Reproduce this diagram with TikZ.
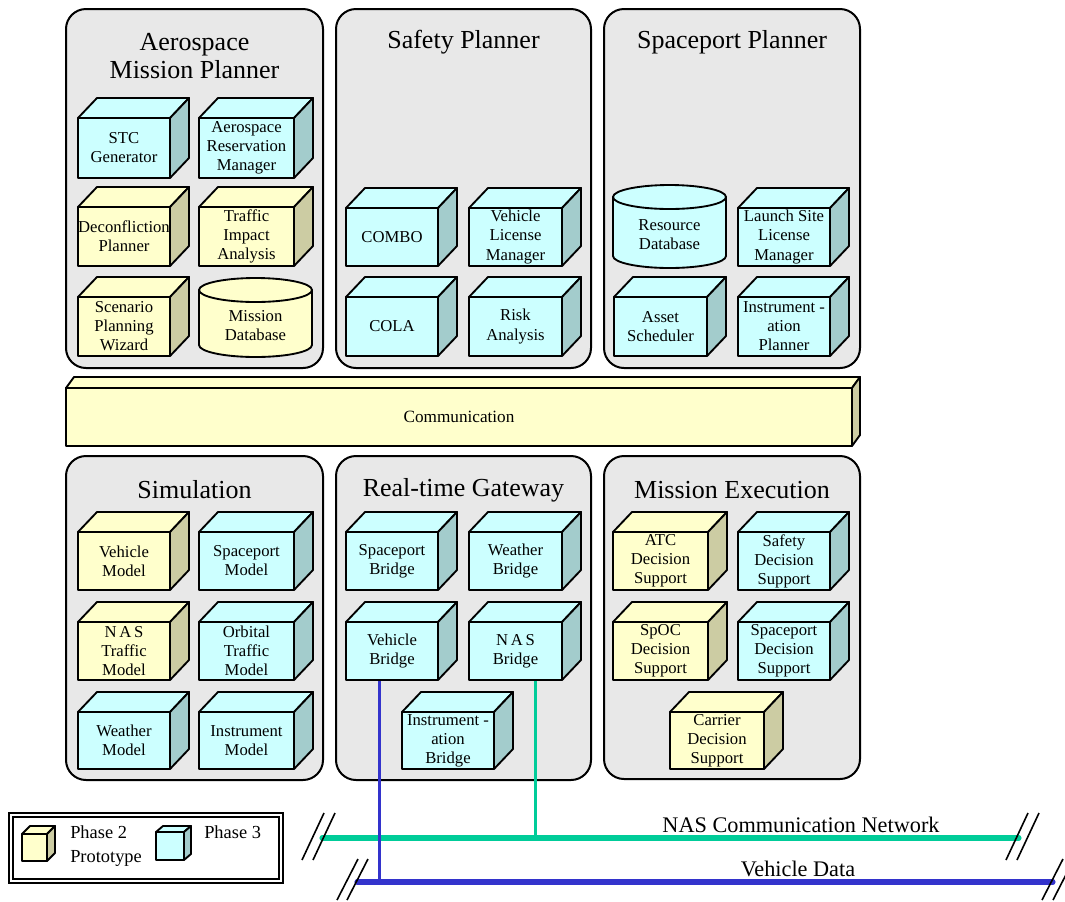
\documentclass[tikz,border=0pt]{standalone}
\usepackage{fontspec}
\setmainfont{Liberation Serif}
\usetikzlibrary{calc}

\definecolor{yelfront}{HTML}{FFFFCC}
\definecolor{yelside}{HTML}{CCCCA3}
\definecolor{cyafront}{HTML}{CCFFFF}
\definecolor{cyaside}{HTML}{A3CCCC}
\definecolor{panelgray}{HTML}{E8E8E8}
\definecolor{netgreen}{HTML}{00CC99}
\definecolor{netblue}{HTML}{3333CC}

\tikzset{
  edge/.style={draw=black, line width=1.4pt, line join=round},
  cubeface/.style={edge, rectangle, inner sep=0pt, align=center,
    font=\fontsize{12.5}{14.3}\selectfont},
  dblabel/.style={inner sep=0pt, align=center, font=\fontsize{12.5}{14.3}\selectfont},
  panel/.style={draw=black, fill=panelgray, line width=1.5pt, rounded corners=15pt},
  paneltitle/.style={inner sep=0pt, align=center, font=\fontsize{19.5}{21}\selectfont},
  commtext/.style={edge, fill=yelfront, rectangle, inner sep=0pt,
    font=\fontsize{12.9}{15}\selectfont},
  netlabel/.style={inner sep=0pt, font=\fontsize{16.7}{19}\selectfont},
  legendtext/.style={inner sep=0pt, font=\fontsize{13.8}{16}\selectfont},
  nasbus/.style={draw=netgreen, line width=3.8pt, line cap=round},
  vdbus/.style={draw=netblue, line width=3.8pt, line cap=round},
  nastap/.style={draw=netgreen, line width=2.3pt},
  vdtap/.style={draw=netblue, line width=2.3pt},
  slash/.style={draw=black, line width=1.2pt},
}

% depth of the drawn boxes (right, up)
\def\cdx{19}
\def\cdy{20}

% box: name, left, top, right, bottom (front face), colour kind, text
\newcommand{\cubebox}[7]{%
  \pgfmathsetmacro{\cbw}{(#4-#2)*0.75}%
  \pgfmathsetmacro{\cbh}{(#5-#3)*0.75}%
  \filldraw[edge, fill=#6front] (#2,#3) -- ++(\cdx,-\cdy) -- ++({#4-#2},0) -- (#4,#3) -- cycle;
  \filldraw[edge, fill=#6side] (#4,#3) -- ++(\cdx,-\cdy) -- ++(0,{#5-#3}) -- (#4,#5) -- cycle;
  \node[cubeface, fill=#6front, minimum width=\cbw pt, minimum height=\cbh pt]
    (#1) at ({(#2+#4)/2},{(#3+#5)/2}) {#7};
}

% database drum: name, left, top, right, bottom, colour kind, text
\newcommand{\dbcyl}[7]{%
  \pgfmathsetmacro{\dbrx}{(#4-#2)/2}%
  \filldraw[edge, fill=#6front] (#2,{#3+12}) -- (#2,{#5-12})
    arc[start angle=180, end angle=0, x radius=\dbrx, y radius=12]
    -- (#4,{#3+12}) -- cycle;
  \filldraw[edge, fill=#6front] ({(#2+#4)/2},{#3+12}) ellipse[x radius=\dbrx, y radius=12];
  \node[dblabel] (#1) at ({(#2+#4)/2},{(#3+#5)/2+8}) {#7};
}

\begin{document}
\begin{tikzpicture}[x=0.75pt, y=-0.75pt]
\useasboundingbox[fill=white] (0,0) rectangle (1065,901);

% ---------- planning panels ----------
\draw[panel] (66,9) rectangle (323,368);
\draw[panel] (336,9) rectangle (591,368);
\draw[panel] (604,9) rectangle (860,368);

\node[paneltitle] (tamp) at (194.5,56) {Aerospace\\Mission Planner};
\node[paneltitle] (tsp) at (463.5,42) {Safety Planner};
\node[paneltitle] (tspp) at (732,42) {Spaceport Planner};

\cubebox{stc}{78}{118}{170}{178}{cya}{STC\\Generator}
\cubebox{arm}{199}{118}{294}{178}{cya}{Aerospace\\Reservation\\Manager}
\cubebox{dcp}{78}{207}{170}{266}{yel}{Deconfliction\\Planner}
\cubebox{tia}{199}{207}{294}{266}{yel}{Traffic\\Impact\\Analysis}
\cubebox{spw}{78}{297}{170}{356}{yel}{Scenario\\Planning\\Wizard}
\dbcyl{mdb}{199}{278}{312}{357}{yel}{Mission\\Database}

\cubebox{combo}{346}{208}{438}{266}{cya}{COMBO}
\cubebox{vlm}{469}{208}{562}{266}{cya}{Vehicle\\License\\Manager}
\cubebox{cola}{346}{297}{438}{356}{cya}{COLA}
\cubebox{risk}{469}{297}{562}{356}{cya}{Risk\\Analysis}

\dbcyl{rdb}{613}{185}{726}{268}{cya}{Resource\\Database}
\cubebox{lslm}{738}{208}{830}{266}{cya}{Launch Site\\License\\Manager}
\cubebox{asch}{614}{297}{707}{356}{cya}{Asset\\Scheduler}
\cubebox{instp}{738}{297}{830}{356}{cya}{Instrument -\\ation\\Planner}

% ---------- communication layer ----------
\filldraw[edge, fill=yelfront] (66,388) -- (74,377) -- (860,377) -- (852,388) -- cycle;
\filldraw[edge, fill=yelside] (852,388) -- (860,377) -- (860,435) -- (852,446) -- cycle;
\node[commtext, minimum width=589.5pt, minimum height=43.5pt] (comm) at (459,417) {Communication};

% ---------- execution panels ----------
\draw[panel] (66,456) rectangle (323,780);
\draw[panel] (336,456) rectangle (591,780);
\draw[panel] (604,456) rectangle (860,779);

\node[paneltitle] (tsim) at (194.5,490) {Simulation};
\node[paneltitle] (trtg) at (463.5,490) {Real-time Gateway};
\node[paneltitle] (tme) at (732,490) {Mission Execution};

\cubebox{vmod}{78}{532}{170}{590}{yel}{Vehicle\\Model}
\cubebox{spmod}{199}{532}{294}{590}{cya}{Spaceport\\Model}
\cubebox{nasmod}{78}{622}{170}{680}{yel}{N\,A\,S\\Traffic\\Model}
\cubebox{orbmod}{199}{622}{294}{680}{cya}{Orbital\\Traffic\\Model}
\cubebox{wmod}{78}{712}{170}{769}{cya}{Weather\\Model}
\cubebox{imod}{199}{712}{294}{769}{cya}{Instrument\\Model}

\cubebox{spbr}{346}{532}{438}{590}{cya}{Spaceport\\Bridge}
\cubebox{wbr}{469}{532}{562}{590}{cya}{Weather\\Bridge}
\cubebox{vbr}{346}{622}{438}{680}{cya}{Vehicle\\Bridge}
\cubebox{nasbr}{469}{622}{562}{680}{cya}{N\,A\,S\\Bridge}
\cubebox{ibr}{402}{712}{494}{769}{cya}{Instrument -\\ation\\Bridge}

\cubebox{atc}{613}{532}{708}{590}{yel}{ATC\\Decision\\Support}
\cubebox{sds}{738}{532}{830}{590}{cya}{Safety\\Decision\\Support}
\cubebox{spoc}{613}{622}{708}{680}{yel}{SpOC\\Decision\\Support}
\cubebox{spds}{738}{622}{830}{680}{cya}{Spaceport\\Decision\\Support}
\cubebox{cds}{670}{712}{764}{769}{yel}{Carrier\\Decision\\Support}

% ---------- networks ----------
\coordinate (nasL) at (322,838);
\coordinate (nasR) at (1019,838);
\coordinate (vdL) at (357,882);
\coordinate (vdR) at (1053,882);

\draw[nasbus] (nasL) -- (nasR);
\draw[nastap] (nasbr.south west) ++(67,0) coordinate (nastapc) -- (nastapc |- nasL);
\draw[vdbus] (vdL) -- (vdR);
\draw[vdtap] (vbr.south west) ++(34,0) coordinate (vtapc) -- (vtapc |- vdL);

\draw[slash] (nasL) ++(-20,22) -- ++(22,-47);
\draw[slash] (nasL) ++(-9,22) -- ++(22,-47);
\draw[slash] (nasR) ++(-13,22) -- ++(22,-47);
\draw[slash] (nasR) ++(-2,22) -- ++(22,-47);
\draw[slash] (vdL) ++(-20,18) -- ++(21,-41);
\draw[slash] (vdL) ++(-10,18) -- ++(21,-41);
\draw[slash] (vdR) ++(-11,18) -- ++(21,-41);
\draw[slash] (vdR) ++(0,18) -- ++(21,-41);

\node[netlabel] (naslbl) at (801,825) {NAS Communication Network};
\node[netlabel] (vdlbl) at (798,869) {Vehicle Data};

% ---------- legend ----------
\draw[line width=1.2pt, fill=white] (9,813) rectangle (283,883);
\draw[line width=1.2pt] (13,817) rectangle (279,879);
\begingroup
\def\cdx{8}\def\cdy{8}
\cubebox{lgyel}{22}{834}{47}{861}{yel}{}
\def\cdx{7}\def\cdy{6}
\cubebox{lgcya}{156}{832}{184}{860}{cya}{}
\endgroup
\node[legendtext, anchor=base west] (lgp2) at (70,838) {Phase 2};
\node[legendtext, anchor=base west] (lgproto) at (70,862) {Prototype};
\node[legendtext, anchor=base west] (lgp3) at (204,838) {Phase 3};
\end{tikzpicture}
\end{document}
